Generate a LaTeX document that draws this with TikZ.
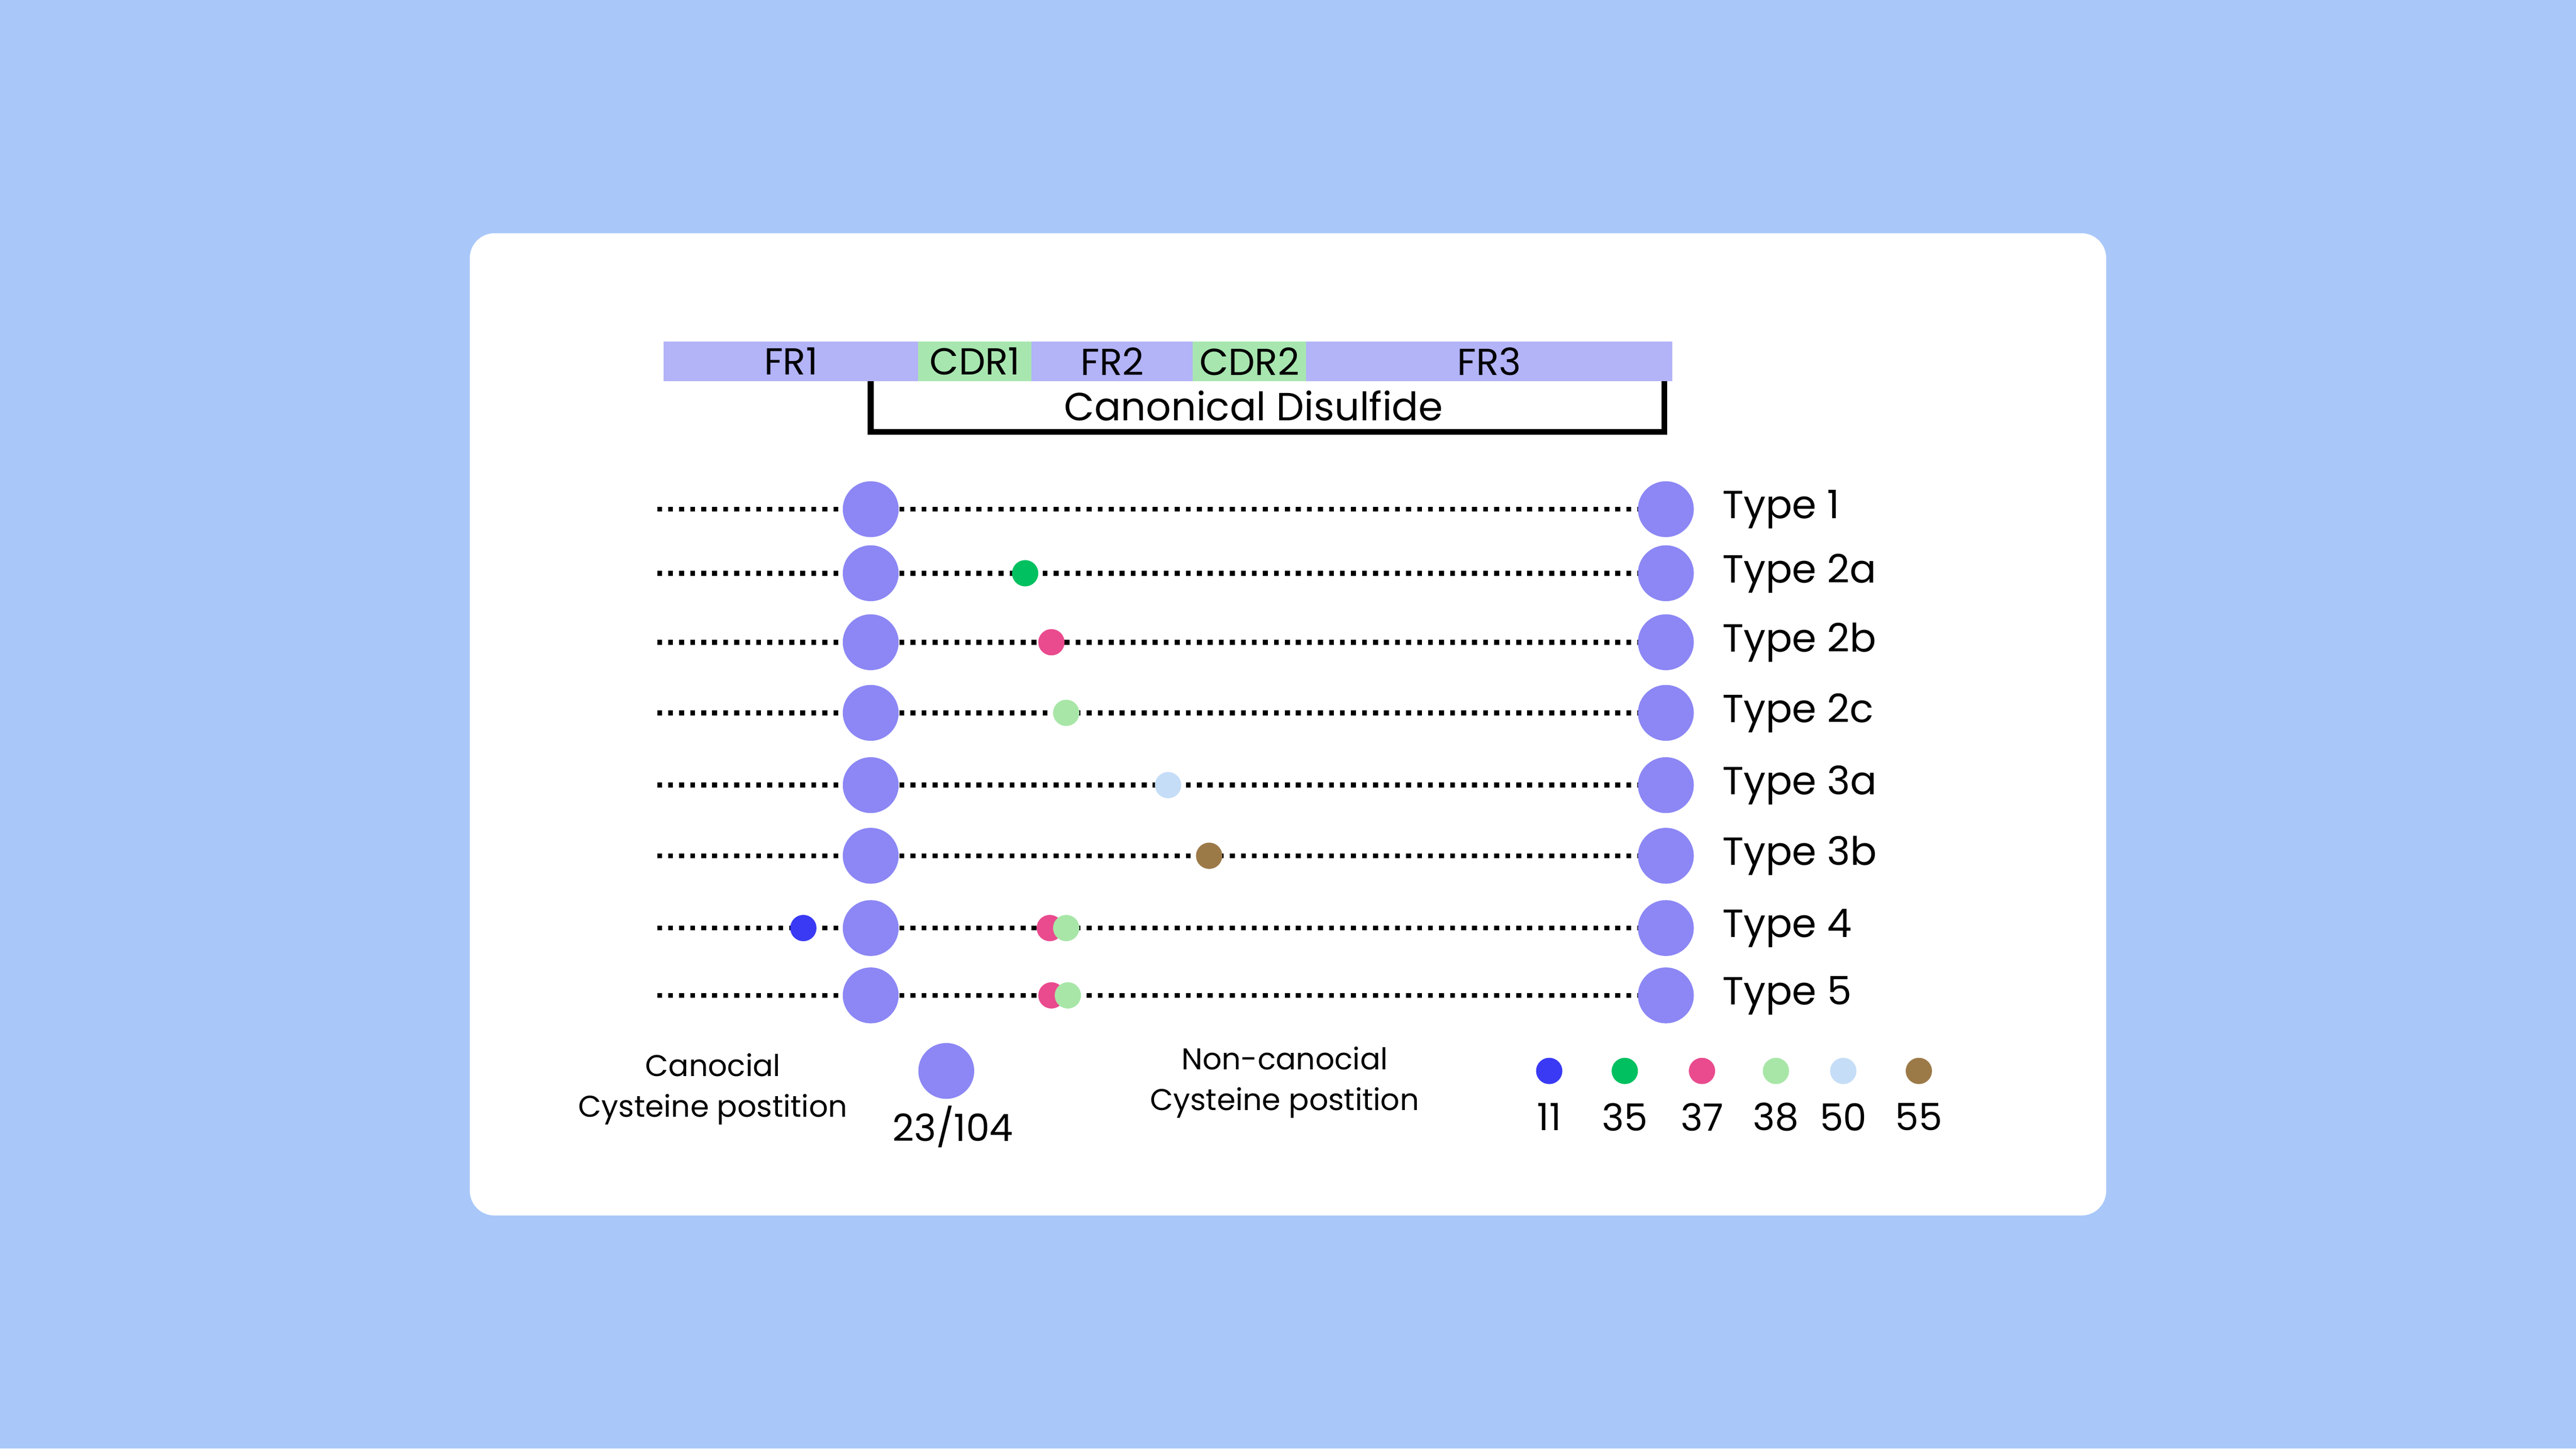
\documentclass[tikz,border=0pt]{standalone}
\usepackage{fontspec}
\setmainfont{Poppins}
\usetikzlibrary{positioning}
\definecolor{bgblue}{HTML}{A9C8F9}
\definecolor{frcol}{HTML}{B3B3F8}
\definecolor{cdrcol}{HTML}{A8E6B0}
\definecolor{cyscol}{HTML}{8C87F5}
\definecolor{cA}{HTML}{3A3AF5}
\definecolor{cB}{HTML}{00C060}
\definecolor{cC}{HTML}{E94B8E}
\definecolor{cD}{HTML}{A8E6A8}
\definecolor{cE}{HTML}{C5DDF7}
\definecolor{cF}{HTML}{9C7A48}
\tikzset{
  region/.style={draw=none,inner sep=0pt,minimum height=0.24cm,font=\fontsize{6.5}{7}\selectfont},
  bigcys/.style={circle,fill=cyscol,inner sep=0pt,minimum size=0.34cm},
  smallcys/.style={circle,fill=#1,inner sep=0pt,minimum size=0.16cm},
  chain/.style={line width=0.03cm,dash pattern=on 0.03cm off 0.037cm},
  lbl/.style={anchor=west,font=\fontsize{6.8}{8}\selectfont},
  leg/.style={align=center,font=\fontsize{5.2}{7}\selectfont}
}
\begin{document}
\begin{tikzpicture}[x=0.01cm,y=-0.01cm]
	\fill [bgblue] (0,0) rectangle (1568,882);
	\fill [white,rounded corners=0.15cm] (286,142) rectangle (1282,740);

	% domain bar
	\node [region,fill=frcol,minimum width=1.55cm] (fr1) at (481.5,220) {FR1};
	\node [region,fill=cdrcol,minimum width=0.69cm] (cdr1) at (593.5,220) {CDR1};
	\node [region,fill=frcol,minimum width=0.98cm] (fr2) at (677,220) {FR2};
	\node [region,fill=cdrcol,minimum width=0.69cm] (cdr2) at (760.5,220) {CDR2};
	\node [region,fill=frcol,minimum width=2.23cm] (fr3) at (906.5,220) {FR3};

	% disulfide bracket
	\coordinate (bl) at (530,232);
	\coordinate (br) at (1013,232);
	\draw [line width=0.035cm] (bl) -- ++(0,31) -| (br);
	\node [font=\fontsize{6.8}{8}\selectfont] (cd) at (763,247) {Canonical Disulfide};

	% rows
	\foreach \y/\t [count=\i] in {310/Type 1,349/Type 2a,391/Type 2b,434/Type 2c,478/Type 3a,521/Type 3b,565/Type 4,606/Type 5}{
		\coordinate (s\i) at (400,\y);
		\coordinate (e\i) at (1000,\y);
		\draw [chain] (s\i) -- (e\i);
		\node [bigcys] (l\i) at (530,\y) {};
		\node [bigcys] (r\i) at (1014,\y) {};
		\node [lbl] (t\i) at (1036,\y) {\t};
	}
	\node [smallcys=cB] (n2) at (624,349) {};
	\node [smallcys=cC] (n3) at (640,391) {};
	\node [smallcys=cD] (n4) at (649,434) {};
	\node [smallcys=cE] (n5) at (711,478) {};
	\node [smallcys=cF] (n6) at (736,521) {};
	\node [smallcys=cA] (n7a) at (489,565) {};
	\node [smallcys=cC] (n7b) at (639,565) {};
	\node [smallcys=cD] (n7c) at (649,565) {};
	\node [smallcys=cC] (n8b) at (640,606) {};
	\node [smallcys=cD] (n8c) at (650,606) {};

	% legend
	\node [leg] (canon) at (434,663) {Canocial\\Cysteine postition};
	\node [bigcys] (lc) at (576,652) {};
	\node [font=\fontsize{6.5}{8}\selectfont] (lcn) at (580,686) {23/104};
	\node [leg] (noncanon) at (782,659) {Non-canocial\\Cysteine postition};
	\foreach \x/\c/\n in {943/cA/11,989/cB/35,1036/cC/37,1081/cD/38,1122/cE/50,1168/cF/55}{
		\node [smallcys=\c] (d\n) at (\x,652) {};
		\node [font=\fontsize{6.5}{8}\selectfont] (p\n) at (\x,680) {\n};
	}
\end{tikzpicture}
\end{document}
